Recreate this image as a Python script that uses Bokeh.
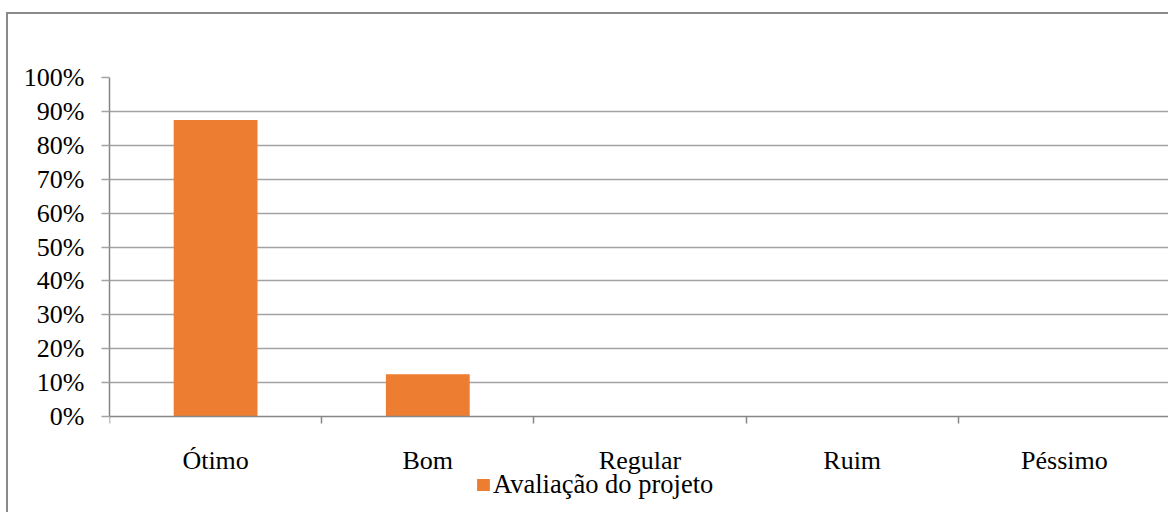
from bokeh.plotting import figure
from bokeh.models import Range1d, FixedTicker, NumeralTickFormatter, Legend, LegendItem, ColumnDataSource
from bokeh.core.properties import value
from bokeh.embed import file_html
from bokeh.resources import INLINE

categories = ["Ótimo", "Bom", "Regular", "Ruim", "Péssimo"]
values = [0.875, 0.125, 0.0, 0.0, 0.0]
series_name = "Avaliação do projeto"
y_ticks = [0.0, 0.1, 0.2, 0.3, 0.4, 0.5, 0.6, 0.7, 0.8, 0.9, 1.0]

positions = [i + 0.5 for i in range(len(categories))]
boundaries = list(range(len(categories) + 1))

SERIF = "Liberation Serif"
GRID = "#a3a3a3"
AXIS = "#868686"

# layout (pixels inside the figure)
FIG_W, FIG_H = 1162, 500
TOP = 63            # frame top (100% line)
ZERO = 402          # 0% line
BOTTOM_BORDER = 10
frame_bottom = FIG_H - BOTTOM_BORDER
y_start = -(frame_bottom - ZERO) / (ZERO - TOP)

p = figure(
    width=FIG_W, height=FIG_H,
    x_range=Range1d(0, len(categories)), y_range=Range1d(y_start, 1),
    output_backend="svg", toolbar_location=None,
    min_border_left=101, min_border_right=0, min_border_top=TOP, min_border_bottom=BOTTOM_BORDER,
    styles={"border-top": "2px solid #8a8a8a", "border-left": "2px solid #8a8a8a",
            "margin-top": "12px", "margin-left": "6px"},
)
p.outline_line_color = None
p.background_fill_color = "white"
p.border_fill_color = "white"

src = ColumnDataSource(dict(x=positions, top=values, cat=categories, base=[0.0] * len(categories)))
r = p.vbar(x="x", top="top", width=0.395, bottom=0, source=src, fill_color="#ED7D31", line_color=None)

# x axis, drawn at the 0% line
xa = p.xaxis[0]
xa.fixed_location = 0
xa.ticker = FixedTicker(ticks=[], minor_ticks=boundaries)
xa.major_tick_line_color = None
xa.major_tick_out = 0
xa.major_tick_in = 0
xa.major_label_standoff = 0
xa.minor_tick_line_color = AXIS
xa.minor_tick_line_width = 1.5
xa.minor_tick_out = 7
xa.minor_tick_in = 0
xa.axis_line_color = AXIS
xa.axis_line_width = 1.5

# category labels
p.text(x="x", y="base", text="cat", source=src, text_align="center", text_baseline="alphabetic",
       y_offset=44, text_font=value(SERIF), text_font_size="26px", text_color="black")

# y axis
ya = p.yaxis[0]
ya.bounds = (0, 1)
ya.ticker = FixedTicker(ticks=y_ticks, minor_ticks=[])
ya.formatter = NumeralTickFormatter(format="0%")
ya.major_tick_line_color = GRID
ya.major_tick_line_width = 1.5
ya.major_tick_out = 8
ya.major_tick_in = 0
ya.minor_tick_line_color = None
ya.axis_line_color = AXIS
ya.axis_line_width = 1.5
ya.major_label_text_font = SERIF
ya.major_label_text_font_size = "26px"
ya.major_label_text_color = "black"
ya.major_label_standoff = 17

p.xgrid.grid_line_color = None
p.ygrid.ticker = FixedTicker(ticks=y_ticks[1:])
p.ygrid.grid_line_color = GRID
p.ygrid.grid_line_width = 1.5

legend = Legend(
    items=[LegendItem(label=series_name, renderers=[r])],
    location=(366, 4),
    orientation="horizontal",
    label_text_font=SERIF, label_text_font_size="26.5px", label_text_color="black",
    glyph_width=16, glyph_height=15, label_standoff=2,
    padding=0, margin=0, spacing=0,
    border_line_color=None, background_fill_alpha=0,
)
p.add_layout(legend)

open("out.html", "w").write(file_html(p, INLINE))
